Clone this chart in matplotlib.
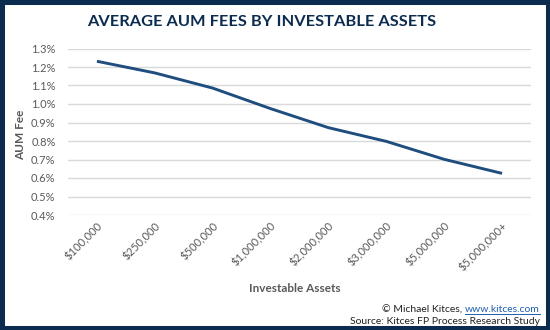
import matplotlib
matplotlib.use("Agg")
import matplotlib.pyplot as plt
from matplotlib.patches import Rectangle
from matplotlib.ticker import FuncFormatter

categories = ["$100,000", "$250,000", "$500,000", "$1,000,000", "$2,000,000",
              "$3,000,000", "$5,000,000", "$5,000,000+"]
fees = [1.231, 1.168, 1.086, 0.975, 0.872, 0.798, 0.701, 0.625]
yticks = [0.4, 0.5, 0.6, 0.7, 0.8, 0.9, 1.0, 1.1, 1.2, 1.3]

W, H = 550, 330
fig = plt.figure(figsize=(W / 100, H / 100), dpi=100)
plt.rcParams['font.family'] = ['Lato', 'DejaVu Sans']

navy = "#0c2c4f"
gray = "#595959"

ax = fig.add_axes([68 / W, 1 - 215 / H, (531 - 68) / W, (215 - 48.5) / H])
x = list(range(len(categories)))
ax.plot(x, fees, color="#1f4e7e", lw=2.1, solid_capstyle="butt")
ax.set_xlim(-0.5, len(categories) - 0.5)
ax.set_ylim(0.4, 1.3)
ax.set_yticks(yticks)
ax.yaxis.set_major_formatter(FuncFormatter(lambda v, p: f"{v:.1f}%"))
ax.set_xticks(x)
ax.set_xticklabels(categories, rotation=45, ha="right", rotation_mode="anchor")
ax.grid(axis="y", color="#d9d9d9", lw=1)
ax.set_axisbelow(True)
for s in ax.spines.values():
    s.set_visible(False)
ax.tick_params(axis="both", length=0, colors=gray, labelsize=8)
ax.tick_params(axis="y", pad=9)
ax.tick_params(axis="x", pad=4)

fig.text(21 / W, 1 - 135 / H, "AUM Fee", rotation=90, ha="center", va="center",
         fontsize=8.5, fontweight="bold", color=gray)
fig.text(295 / W, 1 - 288 / H, "Investable Assets", ha="center", va="center",
         fontsize=8.5, fontweight="bold", color=gray)

fig.text(262 / W, 1 - 22 / H, "AVERAGE AUM FEES BY INVESTABLE ASSETS", ha="center",
         va="center", fontsize=11.8, fontweight="bold", color=navy)

# footer
t1 = fig.text(540 / W, 1 - 322 / H, "Source: Kitces FP Process Research Study",
              ha="right", va="center", fontsize=7.5, color="#222222")
link = fig.text(540 / W, 1 - 310 / H, "www.kitces.com", ha="right", va="center",
                fontsize=7.5, color="#1f5fb0")
fig.canvas.draw()
r = fig.canvas.get_renderer()
bb = link.get_window_extent(r)
fig.text(bb.x0 / W, 1 - 310 / H, "© Michael Kitces, ", ha="right", va="center",
         fontsize=7.5, color="#222222")
fig.add_artist(plt.Line2D([bb.x0 / W, bb.x1 / W], [(bb.y0 + 0.5) / H, (bb.y0 + 0.5) / H],
                          transform=fig.transFigure, color="#1f5fb0", lw=0.7))

fig.add_artist(Rectangle((0, 0), 1, 1, transform=fig.transFigure, fill=False,
                         edgecolor=navy, lw=6.5))

fig.savefig("out.png", dpi=100)
